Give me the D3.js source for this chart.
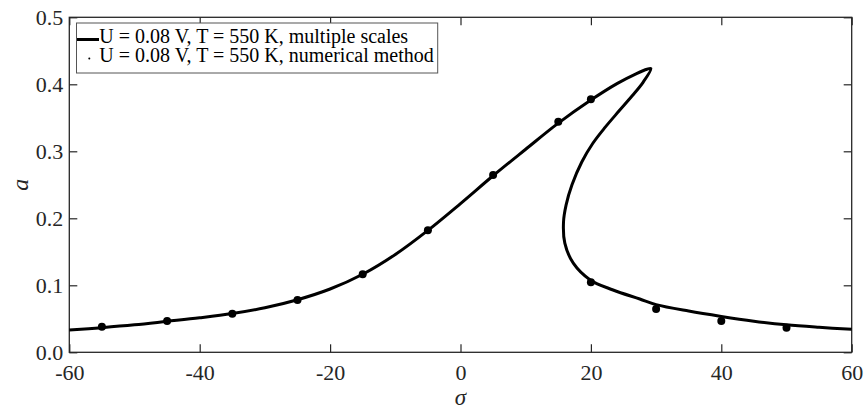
<!DOCTYPE html>
<html>
<head>
<meta charset="utf-8">
<script src="https://cdn.jsdelivr.net/npm/d3@7"></script>
<style>
  body { margin:0; background:#fff; }
  #canvas { width:865px; height:412px; }
  text { font-family:"Liberation Serif", "Times New Roman", serif; }
</style>
</head>
<body>
<div id="canvas" class="canvas"></div>
<script>
// --- data
var sigmaTicks = [-60, -40, -20, 0, 20, 40, 60];
var aTicks = [0, 0.1, 0.2, 0.3, 0.4, 0.5];

// multiple scales curve (upper branch, then back along middle + lower branch)
var curveSigma = [-60, -55, -50, -45, -40, -35, -30, -25, -20, -15, -10, -5, 0, 5, 10, 15, 20, 24, 27, 28.6, 29.2,
                  28.0, 26.3, 24.3, 22.2, 20.3, 18.6, 17.1, 16.2, 15.8, 16.0, 17.3, 19.9, 23.4, 27.5, 30, 35, 40, 45, 50, 55, 60];
var curveA = [0.0333, 0.0368, 0.041, 0.0462, 0.0515, 0.0578, 0.0665, 0.0785, 0.0945, 0.1165, 0.146, 0.182, 0.222, 0.2635, 0.303, 0.342, 0.3765, 0.401, 0.416, 0.4225, 0.4235,
              0.403, 0.3825, 0.360, 0.336, 0.312, 0.284, 0.250, 0.220, 0.1945, 0.163, 0.133, 0.108, 0.093, 0.0795, 0.0712, 0.0615, 0.0535, 0.0465, 0.041, 0.0373, 0.0343];

// numerical method points
var pointSigma = [-55, -45, -35, -25, -15, -5, 5, 15, 20, 20, 30, 40, 50];
var pointA = [0.038, 0.0467, 0.0576, 0.078, 0.1164, 0.182, 0.2646, 0.344, 0.3776, 0.1045, 0.0646, 0.0467, 0.0367];

var legendText = ["U = 0.08 V, T = 550 K, multiple scales",
                  "U = 0.08 V, T = 550 K, numerical method"];

// --- Margin convention
var M = {top:17.3, right:13.3, bottom:59.7, left:69.3};
var outerWidth = 865, outerHeight = 412;
var w = outerWidth - M.left - M.right,
    h = outerHeight - M.top - M.bottom;

var axisCol = "#262626";
var tickFont = 22;

var svg = d3.select('.canvas')
  .append('svg')
  .attr('width', outerWidth)
  .attr('height', outerHeight);

var plot = svg.append('g')
  .attr('transform', 'translate(' + M.left + ',' + M.top + ')');

// --- scales
var scaleX = d3.scaleLinear().domain([-60, 60]).range([0, w]);
var scaleY = d3.scaleLinear().domain([0, 0.5]).range([h, 0]);

// plain hyphen for negatives, like the original
function fmtX(d) { return d < 0 ? "-" + Math.abs(d) : String(d); }

// --- axes
var xAxis = d3.axisBottom(scaleX).tickValues(sigmaTicks)
  .tickSizeInner(-8).tickSizeOuter(0).tickPadding(12)
  .tickFormat(fmtX);
var xAxisTop = d3.axisTop(scaleX).tickValues(sigmaTicks)
  .tickSizeInner(-8).tickSizeOuter(0).tickFormat("");
var yAxis = d3.axisLeft(scaleY).tickValues(aTicks)
  .tickSizeInner(-8).tickSizeOuter(0).tickPadding(6)
  .tickFormat(d3.format(".1f"));
var yAxisRight = d3.axisRight(scaleY).tickValues(aTicks)
  .tickSizeInner(-8).tickSizeOuter(0).tickFormat("");

function styleAxis(g) {
  g.select('.domain').remove();
  g.selectAll('line').attr('stroke', axisCol).attr('stroke-width', 1.2);
  g.selectAll('text')
    .attr('fill', axisCol)
    .style('font-family', '"Liberation Serif", "Times New Roman", serif')
    .style('font-size', tickFont + 'px');
}

plot.append('g').attr('transform', 'translate(0,' + h + ')').call(xAxis).call(styleAxis);
plot.append('g').call(xAxisTop).call(styleAxis);
plot.append('g').call(yAxis).call(styleAxis);
plot.append('g').attr('transform', 'translate(' + w + ',0)').call(yAxisRight).call(styleAxis);

// frame
plot.append('rect')
  .attr('x', 0).attr('y', 0)
  .attr('width', w).attr('height', h)
  .attr('fill', 'none')
  .attr('stroke', axisCol)
  .attr('stroke-width', 1.3);

// --- curve
var curvePts = curveSigma.map(function(s, i) { return [s, curveA[i]]; });
var line = d3.line()
  .x(function(d) { return scaleX(d[0]); })
  .y(function(d) { return scaleY(d[1]); })
  .curve(d3.curveCatmullRom.alpha(0.5));

plot.append('path')
  .attr('d', line(curvePts))
  .attr('fill', 'none')
  .attr('stroke', '#000')
  .attr('stroke-width', 3)
  .attr('stroke-linejoin', 'round');

// --- numerical points
plot.selectAll('circle.pt')
  .data(pointSigma)
  .enter()
  .append('circle')
  .attr('class', 'pt')
  .attr('cx', function(d) { return scaleX(d); })
  .attr('cy', function(d, i) { return scaleY(pointA[i]); })
  .attr('r', 4)
  .attr('fill', '#000');

// --- axis titles
svg.append('text')
  .attr('x', M.left + scaleX(0))
  .attr('y', 405)
  .attr('text-anchor', 'middle')
  .attr('font-style', 'italic')
  .attr('font-size', '23px')
  .attr('fill', axisCol)
  .text('σ');

svg.append('text')
  .attr('transform', 'translate(28,' + (M.top + h / 2) + ') rotate(-90)')
  .attr('text-anchor', 'middle')
  .attr('font-style', 'italic')
  .attr('font-size', '24px')
  .attr('fill', axisCol)
  .text('a');

// --- legend
var leg = svg.append('g');
var legBox = leg.append('rect')
  .attr('x', 76.5).attr('y', 23)
  .attr('height', 50)
  .attr('fill', '#fff')
  .attr('stroke', '#555')
  .attr('stroke-width', 1);

var legLabels = leg.selectAll('text')
  .data(legendText)
  .enter()
  .append('text')
  .attr('x', 99.3)
  .attr('y', function(d, i) { return 42.7 + i * 19; })
  .attr('font-size', '20px')
  .attr('fill', '#000')
  .text(function(d) { return d; });

var maxW = 0;
legLabels.each(function() { maxW = Math.max(maxW, this.getComputedTextLength()); });
legBox.attr('width', 99.3 + maxW + 4 - 76.5);

leg.append('line')
  .attr('x1', 77).attr('x2', 99)
  .attr('y1', 39.5).attr('y2', 39.5)
  .attr('stroke', '#000')
  .attr('stroke-width', 3);

leg.append('circle')
  .attr('cx', 89.3).attr('cy', 58.5)
  .attr('r', 1)
  .attr('fill', '#000');
</script>
</body>
</html>
